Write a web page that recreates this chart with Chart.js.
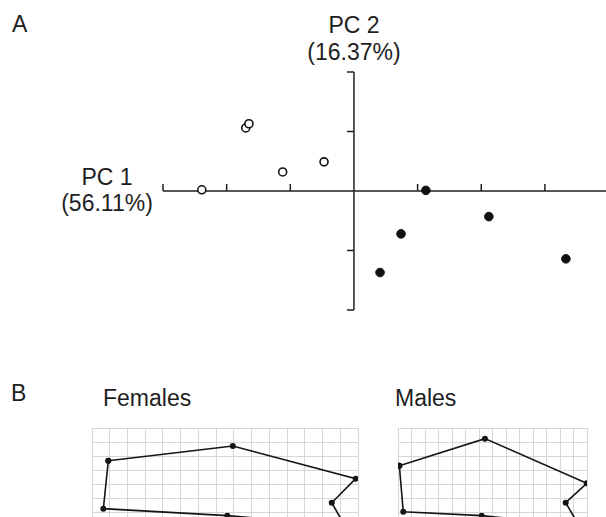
<!DOCTYPE html>
<html>
<head>
<meta charset="utf-8">
<script src="https://cdn.jsdelivr.net/npm/chart.js@4.4.0/dist/chart.umd.min.js"></script>
<style>
  html, body { margin: 0; padding: 0; background: #fff; overflow: hidden; }
  #page { position: relative; width: 606px; height: 517px; overflow: hidden; }
  canvas { position: absolute; }
  .lbl { position: absolute; font-family: "Liberation Sans", Arial, sans-serif; font-size: 23px;
         line-height: 23px; color: #1e1e1e; white-space: nowrap; }
  .ctr { width: 200px; text-align: center; }
</style>
</head>
<body>
<div id="page">
  <div class="lbl" style="left:12px; top:12.5px;">A</div>
  <div class="lbl ctr" style="left:254px; top:14px;">PC 2</div>
  <div class="lbl ctr" style="left:254px; top:40.5px;">(16.37%)</div>
  <div class="lbl ctr" style="left:7px; top:165.5px;">PC 1</div>
  <div class="lbl ctr" style="left:7px; top:192px;">(56.11%)</div>
  <div class="lbl" style="left:11px; top:382px;">B</div>
  <div class="lbl" style="left:103px; top:387px;">Females</div>
  <div class="lbl" style="left:395px; top:387px;">Males</div>

  <canvas id="pcaChart" width="449" height="250" style="left:157px; top:66px;"></canvas>
  <canvas id="femChart" width="270" height="116" style="left:90px; top:426px;"></canvas>
  <canvas id="maleChart" width="193" height="116" style="left:396px; top:426px;"></canvas>
</div>
<script>
// PCA scores (open = one group, filled = the other)
const pc1Open = [-2.39, -1.70, -1.65, -1.12, -0.47];
const pc2Open = [0.02, 1.06, 1.13, 0.32, 0.49];
const pc1Filled = [1.13, 0.74, 0.41, 2.12, 3.33];
const pc2Filled = [0.01, -0.72, -1.37, -0.43, -1.14];
const pc1Ticks = [-3, -2, -1, 1, 2, 3];
const pc2Ticks = [-2, -1, 1, 2];

// landmark outlines on the deformation grids (grid-cell units)
const femX = [0.92, 7.94, 14.87, 13.52, 14.27, 7.63, 0.64, 0.92];
const femY = [2.34, 1.29, 3.62, 5.34, 7.0, 6.26, 5.76, 2.34];
const maleX = [0.10, 6.44, 13.98, 12.42, 13.43, 6.20, 0.39, 0.10];
const maleY = [2.69, 0.76, 3.95, 5.34, 7.0, 6.26, 5.98, 2.69];

const toPoints = (xs, ys) => xs.map((v, i) => ({x: v, y: ys[i]}));

// axes crossing at the origin, ticks drawn from the scales
const crossAxes = {
    id: 'crossAxes',
    beforeDatasetsDraw(chart) {
        const {ctx, chartArea, scales: {x, y}} = chart;
        const x0 = x.getPixelForValue(0);
        const y0 = y.getPixelForValue(0);
        ctx.save();
        ctx.strokeStyle = '#222';
        ctx.lineWidth = 1.5;
        ctx.beginPath();
        ctx.moveTo(chartArea.left, y0);
        ctx.lineTo(chartArea.right, y0);
        ctx.moveTo(x0, chartArea.top);
        ctx.lineTo(x0, chartArea.bottom);
        pc1Ticks.forEach(v => {
            const px = x.getPixelForValue(v);
            ctx.moveTo(px, y0);
            ctx.lineTo(px, y0 - 7);
        });
        pc2Ticks.forEach(v => {
            const py = y.getPixelForValue(v);
            ctx.moveTo(x0, py);
            ctx.lineTo(x0 - 7, py);
        });
        ctx.stroke();
        ctx.restore();
    }
};

new Chart(document.getElementById('pcaChart').getContext('2d'), {
    type: 'scatter',
    data: {
        datasets: [{
            data: toPoints(pc1Open, pc2Open),
            backgroundColor: '#fff',
            borderColor: '#111',
            borderWidth: 1.6,
            pointRadius: 4
        }, {
            data: toPoints(pc1Filled, pc2Filled),
            backgroundColor: '#111',
            borderColor: '#111',
            borderWidth: 1,
            pointRadius: 4.3
        }]
    },
    options: {
        responsive: false,
        animation: false,
        layout: { autoPadding: false, padding: { left: 6, top: 6, right: 0, bottom: 6 } },
        plugins: { legend: { display: false }, tooltip: { enabled: false } },
        scales: {
            x: { type: 'linear', display: false, min: -3, max: 3.96 },
            y: { type: 'linear', display: false, min: -2, max: 2 }
        }
    },
    plugins: [crossAxes]
});

// Deformation grid panels
function gridChart(id, xs, ys, xMax) {
    return new Chart(document.getElementById(id).getContext('2d'), {
        type: 'scatter',
        data: {
            datasets: [{
                data: toPoints(xs, ys),
                showLine: true,
                borderColor: '#151515',
                borderWidth: 1.6,
                backgroundColor: '#151515',
                pointRadius: 2.2,
                tension: 0
            }]
        },
        options: {
            responsive: false,
            animation: false,
            layout: { autoPadding: false, padding: 2 },
            plugins: { legend: { display: false }, tooltip: { enabled: false } },
            scales: {
                x: {
                    type: 'linear', min: 0, max: xMax,
                    ticks: { stepSize: 1, display: false },
                    grid: { color: '#d6d6d6', lineWidth: 1, drawTicks: false },
                    border: { display: false }
                },
                y: {
                    type: 'linear', min: 0, max: 8, reverse: true,
                    ticks: { stepSize: 1, display: false },
                    grid: { color: '#d6d6d6', lineWidth: 1, drawTicks: false },
                    border: { display: false }
                }
            }
        }
    });
}

gridChart('femChart', femX, femY, 15);
gridChart('maleChart', maleX, maleY, 14);
</script>
</body>
</html>
